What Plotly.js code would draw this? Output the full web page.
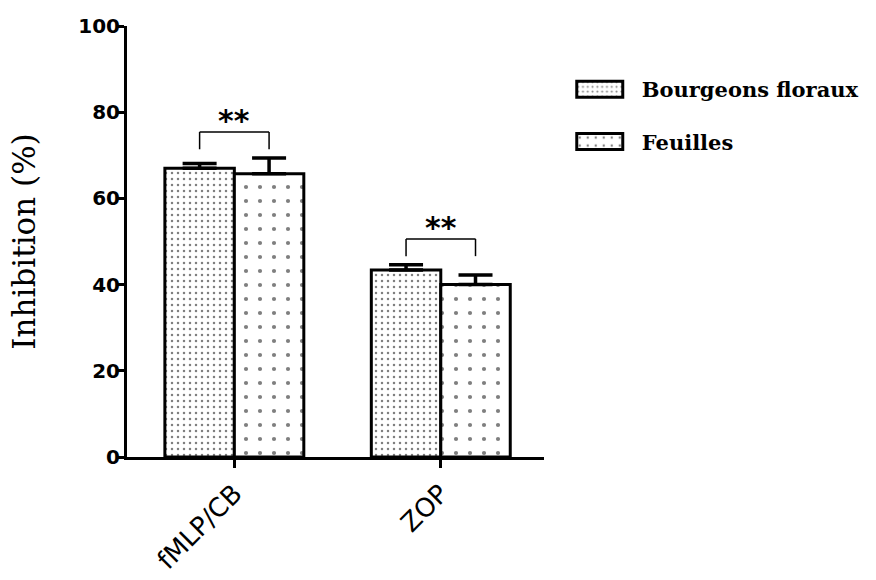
<!DOCTYPE html>
<html>
<head>
<meta charset="utf-8">
<script src="https://cdn.plot.ly/plotly-3.0.1.min.js"></script>
<style>html,body{margin:0;padding:0;background:#fff}#chart{width:876px;height:580px}</style>
</head>
<body>
<div id="chart"></div>
<script>
// ---- data ----
const categories = ['fMLP/CB', 'ZOP'];
const seriesNames = ['Bourgeons floraux', 'Feuilles'];
const budValues = [67.0, 43.4];
const budErrors = [1.1, 1.2];
const leafValues = [65.7, 40.0];
const leafErrors = [3.7, 2.2];
const significance = ['**', '**'];
const yTicks = [0, 20, 40, 60, 80, 100];

// ---- style ----
const BAR_GAP = 0.327;
const barWidth = (1 - BAR_GAP) / 2;
const black = '#000';

function trace(name, vals, errs, shape, size, sol, group) {
  return {
    type: 'bar', name: name, x: categories, y: vals, legendgroup: group,
    marker: {color: '#fff', line: {color: black, width: 3},
      pattern: {shape: shape, size: size, solidity: sol, fgcolor: black, bgcolor: '#fff', fillmode: 'overlay'}},
    error_y: {type: 'data', symmetric: false, array: errs, arrayminus: errs.map(() => 0),
      color: black, thickness: 3.5, width: 17}
  };
}

const data = [
  trace(seriesNames[0], budValues, budErrors, '.', 6, 0.14, 'a'),
  trace(seriesNames[1], leafValues, leafErrors, '.', 14, 0.07, 'b')
];

// significance brackets built from the data
const shapes = [];
const annotations = [];
categories.forEach((c, i) => {
  const top = Math.max(budValues[i] + budErrors[i], leafValues[i] + leafErrors[i]);
  const legY = top + 2;
  const topY = top + 6;
  const x0 = i - barWidth / 2, x1 = i + barWidth / 2;
  const ln = {type: 'line', xref: 'x', yref: 'y', line: {color: black, width: 1.5}};
  shapes.push(Object.assign({x0: x0, x1: x0, y0: legY, y1: topY}, ln));
  shapes.push(Object.assign({x0: x1, x1: x1, y0: legY, y1: topY}, ln));
  shapes.push(Object.assign({x0: x0, x1: x1, y0: topY, y1: topY}, ln));
  annotations.push({x: i, y: topY, xref: 'x', yref: 'y', text: significance[i], showarrow: false,
    yanchor: 'bottom', yshift: -8, font: {family: 'DejaVu Sans', weight: 'bold', size: 30, color: black}});
});

const layout = {
  width: 876, height: 580,
  margin: {l: 127, r: 329, t: 26, b: 123},
  paper_bgcolor: '#fff', plot_bgcolor: '#fff',
  barmode: 'group', bargap: BAR_GAP, bargroupgap: 0,
  showlegend: true,
  legend: {x: 1.033, y: 0.9, xanchor: 'left', yanchor: 'top', bgcolor: 'rgba(0,0,0,0)',
    font: {family: 'DejaVu Serif', weight: 'bold', size: 21, color: black},
    tracegroupgap: 22, itemwidth: 74},
  xaxis: {type: 'category', range: [-0.52, 1.5], showline: true, linewidth: 3, linecolor: black,
    ticks: 'outside', ticklen: 8, tickwidth: 3, tickcolor: black, tickangle: -45,
    tickfont: {family: 'DejaVu Sans', size: 26, color: black},
    showgrid: false, zeroline: false},
  yaxis: {range: [0, 100], tickvals: yTicks, showline: true, linewidth: 3, linecolor: black,
    ticks: 'outside', ticklen: 6, tickwidth: 3, tickcolor: black, ticklabelstandoff: -6,
    tickfont: {family: 'DejaVu Sans', weight: 'bold', size: 20, color: black},
    showgrid: false, zeroline: false,
    title: {text: 'Inhibition (%)', standoff: 34, font: {family: 'DejaVu Serif', size: 31, color: black}}},
  shapes: shapes,
  annotations: annotations
};

Plotly.newPlot('chart', data, layout, {staticPlot: true, displayModeBar: false}).then(() => {
  document.querySelectorAll('.legend .legendpoints path').forEach(p => {
    p.setAttribute('d', 'M-23,8H23V-8H-23Z');
  });
});
</script>
</body>
</html>
